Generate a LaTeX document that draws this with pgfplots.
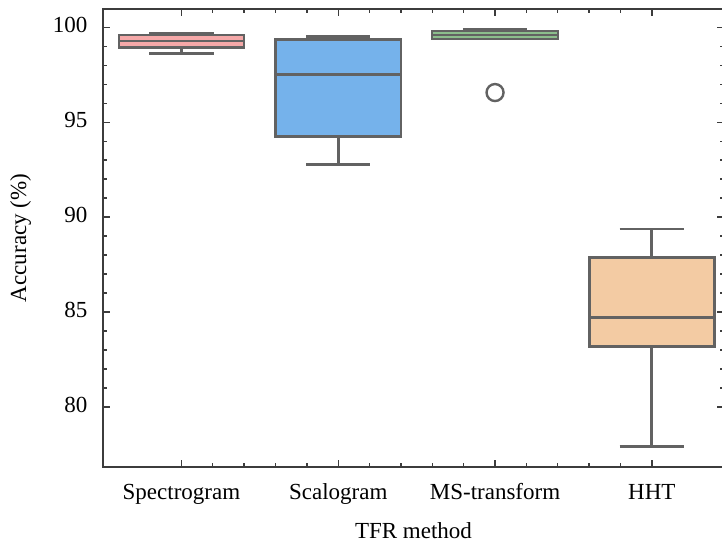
\documentclass[border=0pt]{standalone}
\usepackage{fontspec}
\setmainfont{Liberation Serif}
\usepackage{pgfplots}
\pgfplotsset{compat=1.18}
\usetikzlibrary{calc}
\definecolor{edge}{RGB}{98,98,98}
\definecolor{axc}{RGB}{60,60,60}
\definecolor{pinkc}{RGB}{245,168,168}
\definecolor{bluec}{RGB}{117,178,235}
\definecolor{greenc}{RGB}{140,190,140}
\definecolor{peachc}{RGB}{243,203,163}
\begin{document}
\begin{tikzpicture}
\begin{axis}[
  scale only axis, width=621pt, height=458pt,
  xmin=-0.5, xmax=3.46, ymin=76.84, ymax=100.96,
  xtick={0,1,2,3},
  xticklabels={Spectrogram,Scalogram,MS-transform,HHT},
  ytick={80,85,90,95,100},
  minor x tick num=4, minor y tick num=4,
  tick align=inside,
  major tick length=7pt, minor tick length=4pt,
  every tick/.style={axc, line width=1.3pt},
  axis line style={axc, line width=1.6pt},
  /pgf/number format/assume math mode=true,
  typeset ticklabels with strut,
  ticklabel style={font=\fontsize{23}{27}\selectfont},
  xticklabel style={yshift=-10pt},
  yticklabel style={xshift=-12pt},
  label style={font=\fontsize{23}{27}\selectfont},
  xlabel={TFR method},
  ylabel={Accuracy (\%)},
  xlabel shift=8pt,
  ylabel shift=15pt,
  clip=false,
  bx/.style={draw=edge, line width=2.8pt, line join=miter, solid, no markers},
  bxs/.style={draw=edge, line width=2.3pt, line join=miter, solid, no markers},
]
% ---- Spectrogram (0)
\addplot[bx] coordinates {(0,99.59) (0,99.68)};
\addplot[bx] coordinates {(0,98.60) (0,98.93)};
\addplot[bx] coordinates {(-0.205,99.68) (0.205,99.68)};
\addplot[bx] coordinates {(-0.205,98.60) (0.205,98.60)};
\addplot[bxs, fill=pinkc] coordinates {(-0.4,98.93) (0.4,98.93) (0.4,99.59) (-0.4,99.59)} -- cycle;
\addplot[bxs] coordinates {(-0.4,99.27) (0.4,99.27)};
% ---- Scalogram (1)
\addplot[bx] coordinates {(1,99.37) (1,99.50)};
\addplot[bx] coordinates {(1,92.77) (1,94.26)};
\addplot[bx] coordinates {(0.795,99.50) (1.205,99.50)};
\addplot[bx] coordinates {(0.795,92.77) (1.205,92.77)};
\addplot[bx, fill=bluec] coordinates {(0.6,94.26) (1.4,94.26) (1.4,99.37) (0.6,99.37)} -- cycle;
\addplot[bx] coordinates {(0.6,97.50) (1.4,97.50)};
% ---- MS-transform (2)
\addplot[bx] coordinates {(2,99.78) (2,99.89)};
\addplot[bx] coordinates {(1.795,99.89) (2.205,99.89)};
\addplot[bxs, line width=2pt, fill=greenc] coordinates {(1.6,99.36) (2.4,99.36) (2.4,99.78) (1.6,99.78)} -- cycle;
\addplot[bxs, line width=1.8pt] coordinates {(1.6,99.57) (2.4,99.57)};
\addplot[only marks, mark=o, mark size=8.5pt, mark options={draw=edge, line width=2.4pt, fill=none}] coordinates {(2,96.56)};
% ---- HHT (3)
\addplot[bx] coordinates {(3,87.89) (3,89.37)};
\addplot[bx] coordinates {(3,77.93) (3,83.19)};
\addplot[bx] coordinates {(2.795,89.37) (3.205,89.37)};
\addplot[bx] coordinates {(2.795,77.93) (3.205,77.93)};
\addplot[bx, fill=peachc] coordinates {(2.6,83.19) (3.4,83.19) (3.4,87.89) (2.6,87.89)} -- cycle;
\addplot[bx] coordinates {(2.6,84.72) (3.4,84.72)};
\coordinate (bl) at (rel axis cs:0,0);
\coordinate (tr) at (rel axis cs:1,1);
\end{axis}
\pgfresetboundingbox
\path[use as bounding box] ($(bl)+(-103pt,-75pt)$) rectangle ($(tr)+(-2pt,9pt)$);
\end{tikzpicture}
\end{document}
